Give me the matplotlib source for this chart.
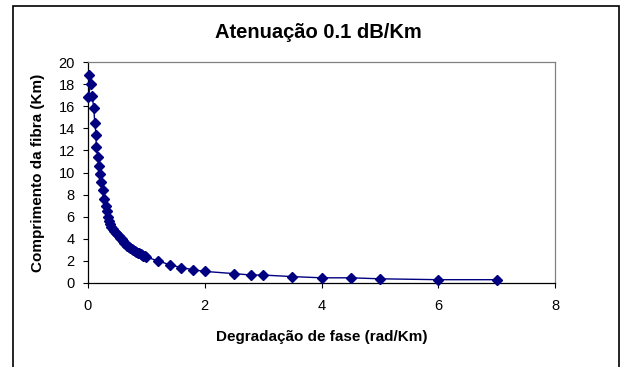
#chart: Atenuação 0.1 dB/Km
import matplotlib
matplotlib.use("Agg")
import matplotlib.pyplot as plt
from matplotlib.patches import Rectangle

plt.rcParams['font.family'] = ['Liberation Sans', 'DejaVu Sans']

degradacao = [0.01, 0.05, 0.0, 0.07, 0.10, 0.115, 0.14, 0.14, 0.17, 0.19,
              0.20, 0.23, 0.25, 0.27, 0.30, 0.32, 0.34, 0.36, 0.38, 0.40,
              0.425, 0.45, 0.475, 0.50, 0.525, 0.55, 0.575, 0.60, 0.625, 0.65,
              0.675, 0.70, 0.725, 0.75, 0.775, 0.80, 0.825, 0.85, 0.875, 0.90,
              0.925, 0.95, 0.975, 1.0, 1.2, 1.4, 1.6, 1.8, 2.0, 2.5,
              2.8, 3.0, 3.5, 4.0, 4.5, 5.0, 6.0, 7.0]
comprimento = [18.8, 18.0, 16.8, 16.9, 15.85, 14.5, 13.4, 12.35, 11.4, 10.6,
               9.9, 9.1, 8.4, 7.6, 7.0, 6.5, 6.0, 5.6, 5.3, 5.1,
               4.9, 4.7, 4.55, 4.45, 4.25, 4.1, 3.95, 3.8, 3.65, 3.5,
               3.38, 3.25, 3.15, 3.05, 2.98, 2.9, 2.82, 2.75, 2.68, 2.6,
               2.52, 2.45, 2.4, 2.35, 2.0, 1.65, 1.4, 1.2, 1.05, 0.85,
               0.72, 0.72, 0.58, 0.47, 0.47, 0.38, 0.3, 0.3]

xticks = [0, 2, 4, 6, 8]
yticks = list(range(0, 21, 2))

fig = plt.figure(figsize=(6.26, 3.67), dpi=100)
ax = fig.add_axes([88/626, 1 - 283/367, 467/626, 221/367])

ax.plot(degradacao, comprimento, color='#000080', lw=1.0,
        marker='D', markersize=4.6, markerfacecolor='#000080',
        markeredgecolor='#000080', clip_on=False, zorder=3)

ax.set_xlim(0, 8)
ax.set_ylim(0, 20)
ax.set_xticks(xticks)
ax.set_yticks(yticks)
ax.tick_params(direction='out', length=3.5, width=0.8, labelsize=10.5, colors='black')
ax.tick_params(axis='x', pad=8)
ax.tick_params(axis='y', pad=6)

ax.spines['top'].set_color('#808080')
ax.spines['right'].set_color('#808080')
ax.spines['left'].set_color('black')
ax.spines['bottom'].set_color('black')
for s in ax.spines.values():
    s.set_linewidth(0.9)

ax.set_xlabel("Degradação de fase (rad/Km)", fontsize=11, fontweight='bold', labelpad=12)
ax.set_ylabel("Comprimento da fibra (Km)", fontsize=11, fontweight='bold', labelpad=10)
fig.text(318/626, 1 - 38.5/367, "Atenuação 0.1 dB/Km", fontsize=14.5, fontweight='bold',
         ha='center', va='baseline')

# outer chart border
fig.patches.append(Rectangle((13/626, -0.02), 606/626, 1.02 - 6/367,
                             transform=fig.transFigure, fill=False,
                             edgecolor='black', lw=1.2))

fig.savefig("out.png", dpi=100)
